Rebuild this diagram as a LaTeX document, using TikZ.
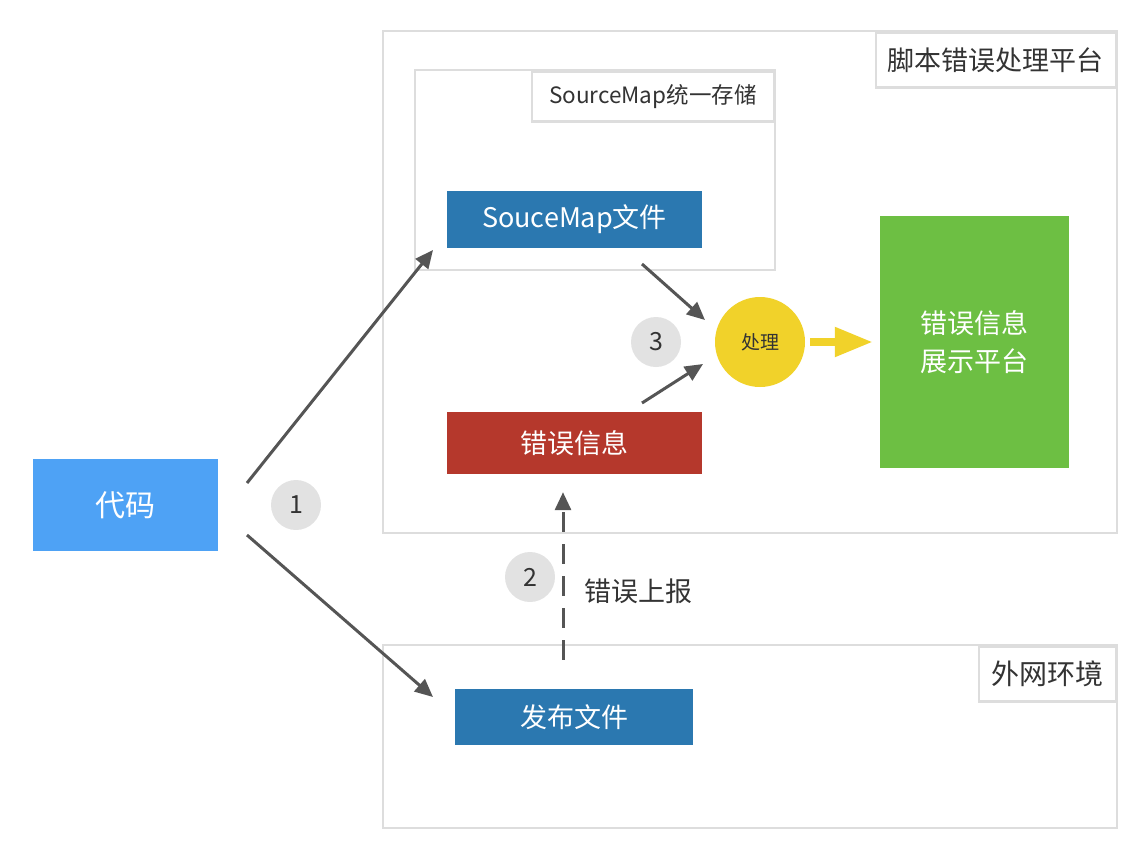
\documentclass[tikz,border=0pt]{standalone}
\usepackage{fontspec}
\setmainfont{Noto Sans CJK SC}
\usepackage{xcolor}
\usetikzlibrary{arrows.meta,positioning,calc}
\definecolor{framegray}{HTML}{DDDDDD}
\definecolor{textgray}{HTML}{333333}
\definecolor{boxblue}{HTML}{2B78B0}
\definecolor{codeblue}{HTML}{4EA2F5}
\definecolor{errred}{HTML}{B5382C}
\definecolor{showgreen}{HTML}{6DBF43}
\definecolor{procyellow}{HTML}{F1D22A}
\definecolor{numgray}{HTML}{E2E2E2}
\definecolor{arrgray}{HTML}{555555}

\begin{document}
\begin{tikzpicture}[x=1pt, y=-1pt,
  frame/.style={draw=framegray, line width=2.5pt, fill=white, minimum width=734pt},
  tag/.style={draw=framegray, line width=2.5pt, fill=white, anchor=north east, inner sep=0pt, text=textgray},
  box/.style={draw=none, text=white, inner sep=0pt, font=\fontsize{27}{38}\selectfont},
  num/.style={circle, fill=numgray, minimum size=50pt, inner sep=0pt, text=textgray, font=\fontsize{25}{25}\selectfont},
  arr/.style={-{Triangle[length=18pt, width=16pt]}, line width=3pt, draw=arrgray}
]
\useasboundingbox (0,0) rectangle (1130,844);

\node[frame, minimum height=502pt] (platform) at (750,282) {};
\node[tag, minimum width=240pt, minimum height=55pt, font=\fontsize{27}{27}\selectfont] (platformtag) at (1117,31) {脚本错误处理平台};

\node[frame, minimum width=360pt, minimum height=200pt] (store) at (595,170) {};
\node[tag, minimum width=242pt, minimum height=50pt, font=\fontsize{22.5}{22.5}\selectfont] (storetag) at (775,70) {SourceMap统一存储};

\node[frame, minimum height=183pt] (web) at (750,736.5) {};
\node[tag, minimum width=137pt, minimum height=55pt, font=\fontsize{28}{28}\selectfont] (webtag) at (1117,645) {外网环境};

\node[box, fill=boxblue, minimum width=255pt, minimum height=57pt] (smfile) at (574.5,219.5) {SouceMap文件};
\node[box, fill=errred, minimum width=255pt, minimum height=62pt] (errinfo) at (574.5,443) {错误信息};
\node[box, fill=boxblue, minimum width=238pt, minimum height=56pt] (pubfile) at (574,717) {发布文件};
\node[box, fill=codeblue, minimum width=185pt, minimum height=92pt, font=\fontsize{30}{30}\selectfont] (code) at (125.5,505) {代码};
\node[box, fill=showgreen, minimum width=189pt, minimum height=252pt, align=center] (show) at (974.5,342) {错误信息\\展示平台};
\node[circle, fill=procyellow, minimum size=90pt, inner sep=0pt, text=textgray, font=\fontsize{19}{19}\selectfont] (proc) at (760,342) {处理};

\node[num] (one) at (296,505) {1};
\node[num] (two) at (530,577) {2};
\node[num] (three) at (656,342) {3};
\node[text=textgray, font=\fontsize{27}{27}\selectfont] (report) at (638,591) {错误上报};

\coordinate (upstart) at (247,483);
\coordinate (upend) at (433,250);
\coordinate (downstart) at (247,535);
\coordinate (downend) at (433,697);
\coordinate (smout) at (642,264);
\coordinate (smin) at (705,320);
\coordinate (errout) at (642,403);
\coordinate (errin) at (703,364);

\draw[arr] (upstart) -- (upend);
\draw[arr] (downstart) -- (downend);
\draw[arr] (smout) -- (smin);
\draw[arr] (errout) -- (errin);
\draw[arr, dash pattern=on 20pt off 12pt, shorten <=29pt, shorten >=18pt] ([xshift=-11pt]pubfile.north) -- ([xshift=-11.5pt]errinfo.south);
\draw[-{Triangle[length=38pt, width=28pt]}, line width=8pt, draw=procyellow, shorten <=5pt, shorten >=7pt] (proc.east) -- (show.west);
\end{tikzpicture}
\end{document}
